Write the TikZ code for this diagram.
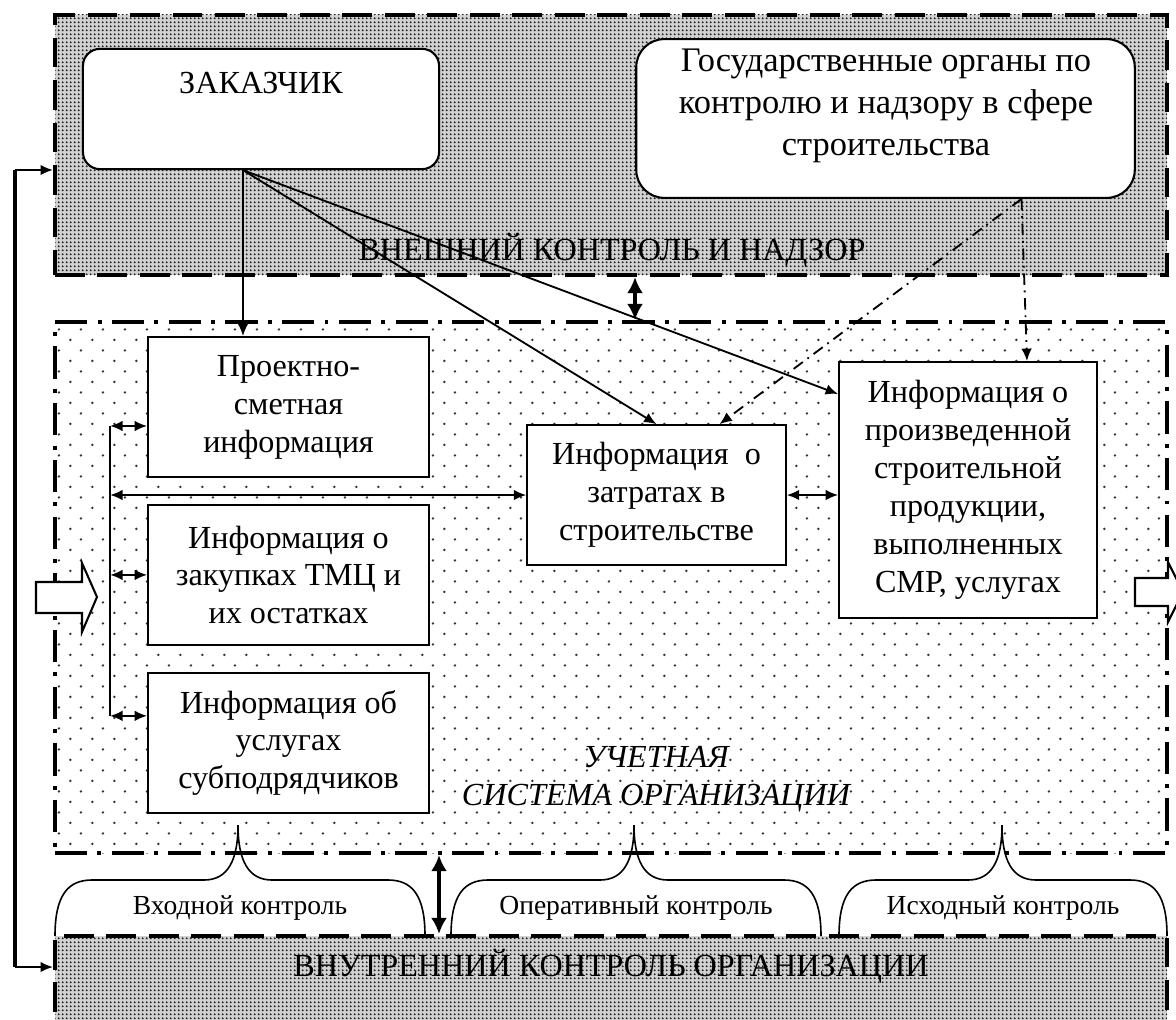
\documentclass[tikz,border=0pt]{standalone}
\usepackage{fontspec}
\setmainfont{Liberation Serif}
\usetikzlibrary{positioning,fit,patterns,arrows.meta,calc}

\pgfdeclarepatternformonly{densedots}{\pgfqpoint{0pt}{0pt}}{\pgfqpoint{1.8pt}{1.8pt}}{\pgfqpoint{1.8pt}{1.8pt}}{%
  \pgfpathcircle{\pgfqpoint{0.9pt}{0.9pt}}{0.55pt}\pgfusepath{fill}}
\pgfdeclarepatternformonly{sparsedots}{\pgfqpoint{0pt}{0pt}}{\pgfqpoint{9.4pt}{9.3pt}}{\pgfqpoint{9.4pt}{9.3pt}}{%
  \pgfpathcircle{\pgfqpoint{2.35pt}{2.3pt}}{0.6pt}%
  \pgfpathcircle{\pgfqpoint{7.05pt}{6.95pt}}{0.6pt}\pgfusepath{fill}}

\begin{document}
\begin{tikzpicture}[x=0.0153cm, y=-0.0153cm, node distance=2.57cm,
  >={Latex[length=5.4pt,width=4.6pt]},
  every node/.style={font=\fontsize{14}{16.5}\selectfont},
  outer zone/.style={draw, line width=1.8pt, dash pattern=on 13pt off 5.5pt,
    preaction={fill=gray!35}, pattern=densedots, pattern color=black!85, inner sep=0pt},
  inner zone/.style={draw, line width=1.8pt, dash pattern=on 14pt off 4.5pt on 1.7pt off 4.5pt,
    pattern=sparsedots, pattern color=black!80, inner sep=0pt},
  info node/.style={draw, fill=white, line width=0.8pt, align=center, inner sep=0pt,
    minimum width=4.30cm, minimum height=2.14cm},
  ext node/.style={draw, fill=white, line width=0.9pt, align=center, inner sep=0pt, rounded corners=0.26cm},
  ctrl label/.style={font=\fontsize{12}{14}\selectfont},
  link/.style={->, line width=0.8pt},
  two way/.style={<->, line width=0.8pt},
  fat two way/.style={<->, line width=1.8pt, >={Latex[length=7pt,width=7pt]}},
  supervise/.style={->, line width=0.8pt, dash pattern=on 5pt off 2.5pt on 0.8pt off 2.5pt}]
\useasboundingbox (0,0) rectangle (1176,1019);

% zones
\node[outer zone, fit={(55,15) (1167,275)}]   (vneshn) {};
\node[inner zone, fit={(55,322) (1167,853)}]  (uchet)  {};
\node[outer zone, fit={(55,936) (1167,1045)}] (vnutr)  {};

\node (vneshntxt) at (612,250) {ВНЕШНИЙ КОНТРОЛЬ И НАДЗОР};
\node (vnutrtxt)  at (611,966) {ВНУТРЕННИЙ КОНТРОЛЬ ОРГАНИЗАЦИИ};
\node[align=center, font=\fontsize{14}{16.5}\selectfont\itshape] (uchettxt) at (656,779) {УЧЕТНАЯ\\СИСТЕМА ОРГАНИЗАЦИИ};

% external participants
\node[ext node, minimum width=5.45cm, minimum height=1.84cm] (zakazchik) at (261,109) {};
\node[below=0.37cm of zakazchik.north, inner sep=0pt] (zakazchiktxt) {ЗАКАЗЧИК};
\node[ext node, rounded corners=0.43cm, minimum width=7.63cm, minimum height=2.43cm] (gosorgany) at (885.5,118.5) {};
\node[align=center, font=\fontsize{15}{18.3}\selectfont] (gosorganytxt) at (886,106)
  {Государственные органы по\\контролю и надзору в сфере\\строительства};

% accounting blocks
\node[info node]                  (proekt)  at (288.5,407) {Проектно-\\сметная\\информация};
\node[info node, below of=proekt] (tmc)     {Информация о\\закупках ТМЦ и\\их остатках};
\node[info node, below of=tmc]    (subpodr) {Информация об\\услугах\\субподрядчиков};
\node[info node, minimum width=3.96cm] (zatraty) at (656.5,495) {Информация~~о\\затратах в\\строительстве};
\node[info node, minimum width=3.95cm, minimum height=3.92cm] (produkt) at (968,490)
  {Информация о\\произведенной\\строительной\\продукции,\\выполненных\\СМР, услугах};

% control stages
\node[ctrl label] (vhod)  at (240,908)  {Входной контроль};
\node[ctrl label] (oper)  at (636,908)  {Оперативный контроль};
\node[ctrl label] (ishod) at (1003,908) {Исходный контроль};
\draw[line width=0.7pt] (55,936) .. controls (55,895) and (68,880) .. (92,880) -- (204,880) .. controls (228,880) and (238,860) .. (238,825)
  .. controls (238,860) and (248,880) .. (272,880) -- (388,880) .. controls (412,880) and (425,895) .. (425,936);
\draw[line width=0.7pt] (451,936) .. controls (451,895) and (464,880) .. (488,880) -- (600,880) .. controls (624,880) and (634,860) .. (634,825)
  .. controls (634,860) and (644,880) .. (668,880) -- (784,880) .. controls (808,880) and (821,895) .. (821,936);
\draw[line width=0.7pt] (839,936) .. controls (839,895) and (852,880) .. (876,880) -- (968,880) .. controls (992,880) and (1002,860) .. (1002,825)
  .. controls (1002,860) and (1012,880) .. (1036,880) -- (1130,880) .. controls (1154,880) and (1167,895) .. (1167,936);

% in / out
\draw[fill=white, line width=0.9pt] (36,582) -- (82,582) -- (82,563) -- (97,597) -- (82,632) -- (82,613) -- (36,613) -- cycle;
\draw[fill=white, line width=0.9pt] (1135,578) -- (1168,578) -- (1168,562) -- (1183,592) -- (1168,622) -- (1168,606) -- (1135,606) -- cycle;

\coordinate (zkout)  at ($(zakazchik.south)+(-18,0)$);
\coordinate (gsout)  at ($(gosorgany.south)+(136,0)$);
\coordinate (prin)   at ($(produkt.north west)+(0,33)$);
\coordinate (gszat)  at ($(zatraty.north)+(63,0)$);
\coordinate (gsprod) at ($(produkt.north)+(59,0)$);
\coordinate (bustop) at ($(proekt.west)+(-37,19)$);
\coordinate (busbot) at ($(subpodr.west)+(-37,-27)$);
\coordinate (fbtop)  at (15,170);
\coordinate (fbbot)  at (15,967);

\draw[line width=0.8pt] (bustop) -- (busbot);
\draw[line width=2pt] (fbtop) -- (fbbot);

\path
(zkout)  edge[link] (zkout |- proekt.north)
         edge[link] (zatraty.north)
         edge[link] (prin)
(gsout)  edge[supervise] (gszat)
         edge[supervise] (gsprod)
(bustop) edge[two way] (bustop -| proekt.west)
(bustop |- tmc.west) edge[two way] (tmc.west)
(busbot) edge[two way] (busbot -| subpodr.west)
(bustop |- zatraty.west) edge[two way] (zatraty.west)
(zatraty.east) edge[two way] (zatraty.east -| produkt.west)
($(vneshn.south)+(24,0)$) edge[fat two way] ($(uchet.north)+(24,0)$)
($(uchet.south)+(-172,0)$) edge[fat two way] ($(vnutr.north)+(-172,0)$)
(fbtop)  edge[link] (fbtop -| vneshn.west)
(fbbot)  edge[link] (fbbot -| vnutr.west)
;
\end{tikzpicture}
\end{document}
